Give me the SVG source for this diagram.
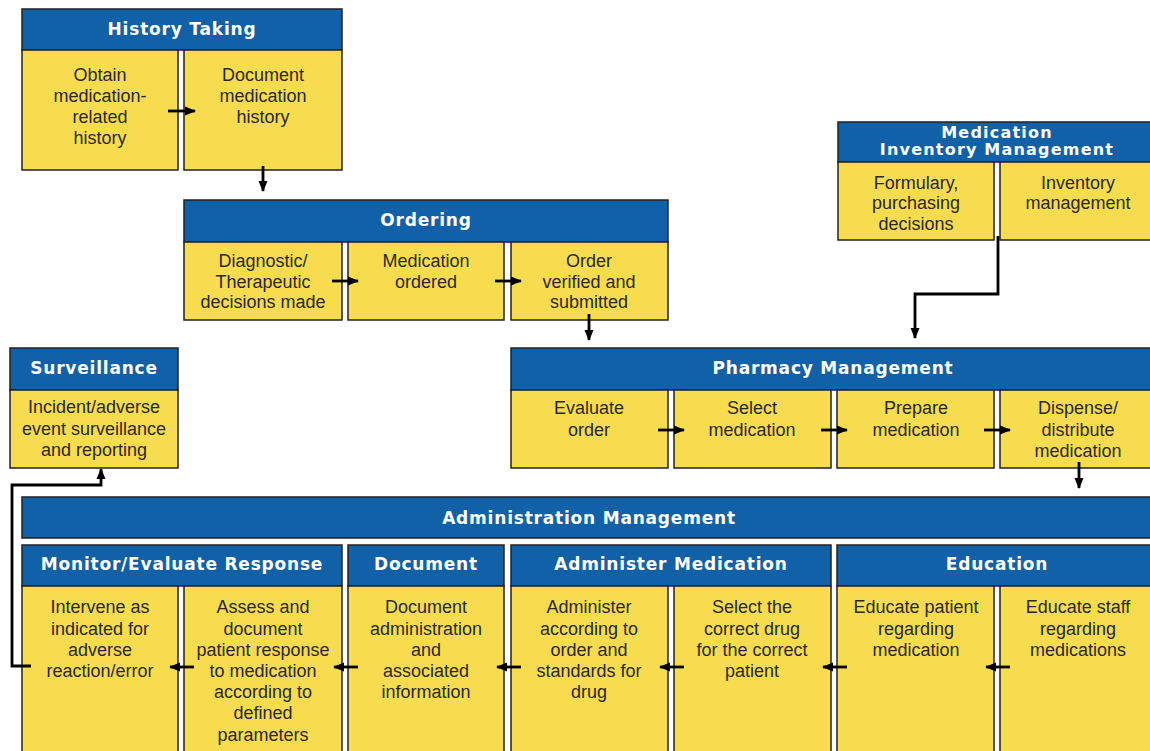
<svg xmlns="http://www.w3.org/2000/svg" width="1150" height="751" viewBox="0 0 1150 751">
<style>
.hd{fill:#1161a9;stroke:#222;stroke-width:1.5}
.cl{fill:#f8dc50;stroke:#222;stroke-width:1.5}
.ht{font-family:"DejaVu Sans",sans-serif;font-weight:bold;font-size:17px;letter-spacing:0.8px;fill:#fff;text-anchor:middle}
.bt{font-family:"Liberation Sans",Arial,sans-serif;font-size:18px;fill:#2a2a14;text-anchor:middle}
.cn{fill:none;stroke:#000;stroke-width:2.8}
</style>
<defs>
<marker id="ah" markerUnits="userSpaceOnUse" markerWidth="12" markerHeight="12" viewBox="0 0 12 12" refX="10" refY="6" orient="auto">
<path d="M0,1.5 L11,6 L0,10.5 Z" fill="#000"/>
</marker>
</defs>
<rect width="1150" height="751" fill="#fff"/>

<g id="history-taking">
<rect class="hd" x="22" y="9" width="320" height="41"/>
<text class="ht" x="182" y="35">History Taking</text>
<rect class="cl" x="22" y="50" width="156" height="120"/>
<rect class="cl" x="184" y="50" width="158" height="120"/>
<text class="bt"><tspan x="100" y="81">Obtain</tspan><tspan x="100" y="102">medication-</tspan><tspan x="100" y="123">related</tspan><tspan x="100" y="144">history</tspan></text>
<text class="bt"><tspan x="263" y="81">Document</tspan><tspan x="263" y="102">medication</tspan><tspan x="263" y="123">history</tspan></text>
</g>

<g id="ordering">
<rect class="hd" x="184" y="200" width="484" height="42"/>
<text class="ht" x="426" y="226">Ordering</text>
<rect class="cl" x="184" y="242" width="158" height="78"/>
<rect class="cl" x="348" y="242" width="156" height="78"/>
<rect class="cl" x="511" y="242" width="157" height="78"/>
<text class="bt"><tspan x="263" y="267">Diagnostic/</tspan><tspan x="263" y="288">Therapeutic</tspan><tspan x="263" y="308">decisions made</tspan></text>
<text class="bt"><tspan x="426" y="267">Medication</tspan><tspan x="426" y="288">ordered</tspan></text>
<text class="bt"><tspan x="589" y="267">Order</tspan><tspan x="589" y="288">verified and</tspan><tspan x="589" y="308">submitted</tspan></text>
</g>

<g id="medication-inventory-management">
<rect class="hd" x="838" y="122" width="318" height="40"/>
<text class="ht" style="font-size:16px;letter-spacing:1.2px"><tspan x="997" y="138">Medication</tspan><tspan x="997" y="155">Inventory Management</tspan></text>
<rect class="cl" x="838" y="162" width="156" height="78"/>
<rect class="cl" x="1000" y="162" width="156" height="78"/>
<text class="bt"><tspan x="916" y="189">Formulary,</tspan><tspan x="916" y="209">purchasing</tspan><tspan x="916" y="230">decisions</tspan></text>
<text class="bt"><tspan x="1078" y="189">Inventory</tspan><tspan x="1078" y="209">management</tspan></text>
</g>

<g id="surveillance">
<rect class="hd" x="10" y="348" width="168" height="42"/>
<text class="ht" x="94" y="374">Surveillance</text>
<rect class="cl" x="10" y="390" width="168" height="78"/>
<text class="bt"><tspan x="94" y="413">Incident/adverse</tspan><tspan x="94" y="435">event surveillance</tspan><tspan x="94" y="456">and reporting</tspan></text>
</g>

<g id="pharmacy-management">
<rect class="hd" x="511" y="348" width="645" height="42"/>
<text class="ht" x="833" y="374">Pharmacy Management</text>
<rect class="cl" x="511" y="390" width="157" height="78"/>
<rect class="cl" x="674" y="390" width="157" height="78"/>
<rect class="cl" x="837" y="390" width="157" height="78"/>
<rect class="cl" x="1000" y="390" width="156" height="78"/>
<text class="bt"><tspan x="589" y="414">Evaluate</tspan><tspan x="589" y="436">order</tspan></text>
<text class="bt"><tspan x="752" y="414">Select</tspan><tspan x="752" y="436">medication</tspan></text>
<text class="bt"><tspan x="916" y="414">Prepare</tspan><tspan x="916" y="436">medication</tspan></text>
<text class="bt"><tspan x="1078" y="414">Dispense/</tspan><tspan x="1078" y="436">distribute</tspan><tspan x="1078" y="457">medication</tspan></text>
</g>

<g id="administration-management">
<rect class="hd" x="22" y="497" width="1134" height="41"/>
<text class="ht" x="589" y="524">Administration Management</text>
</g>

<g id="monitor-evaluate-response">
<rect class="hd" x="22" y="545" width="320" height="41"/>
<text class="ht" x="182" y="570">Monitor/Evaluate Response</text>
<rect class="cl" x="22" y="586" width="156" height="170"/>
<rect class="cl" x="184" y="586" width="158" height="170"/>
<text class="bt"><tspan x="100" y="613">Intervene as</tspan><tspan x="100" y="635">indicated for</tspan><tspan x="100" y="656">adverse</tspan><tspan x="100" y="677">reaction/error</tspan></text>
<text class="bt"><tspan x="263" y="613">Assess and</tspan><tspan x="263" y="635">document</tspan><tspan x="263" y="656">patient response</tspan><tspan x="263" y="677">to medication</tspan><tspan x="263" y="698">according to</tspan><tspan x="263" y="719">defined</tspan><tspan x="263" y="741">parameters</tspan></text>
</g>

<g id="document">
<rect class="hd" x="348" y="545" width="156" height="41"/>
<text class="ht" x="426" y="570">Document</text>
<rect class="cl" x="348" y="586" width="156" height="170"/>
<text class="bt"><tspan x="426" y="613">Document</tspan><tspan x="426" y="635">administration</tspan><tspan x="426" y="656">and</tspan><tspan x="426" y="677">associated</tspan><tspan x="426" y="698">information</tspan></text>
</g>

<g id="administer-medication">
<rect class="hd" x="511" y="545" width="320" height="41"/>
<text class="ht" x="671" y="570">Administer Medication</text>
<rect class="cl" x="511" y="586" width="157" height="170"/>
<rect class="cl" x="674" y="586" width="157" height="170"/>
<text class="bt"><tspan x="589" y="613">Administer</tspan><tspan x="589" y="635">according to</tspan><tspan x="589" y="656">order and</tspan><tspan x="589" y="677">standards for</tspan><tspan x="589" y="698">drug</tspan></text>
<text class="bt"><tspan x="752" y="613">Select the</tspan><tspan x="752" y="635">correct drug</tspan><tspan x="752" y="656">for the correct</tspan><tspan x="752" y="677">patient</tspan></text>
</g>

<g id="education">
<rect class="hd" x="837" y="545" width="319" height="41"/>
<text class="ht" x="997" y="570">Education</text>
<rect class="cl" x="837" y="586" width="157" height="170"/>
<rect class="cl" x="1000" y="586" width="156" height="170"/>
<text class="bt"><tspan x="916" y="613">Educate patient</tspan><tspan x="916" y="635">regarding</tspan><tspan x="916" y="656">medication</tspan></text>
<text class="bt"><tspan x="1078" y="613">Educate staff</tspan><tspan x="1078" y="635">regarding</tspan><tspan x="1078" y="656">medications</tspan></text>
</g>

<g id="connectors">
<line class="cn" x1="168" y1="111" x2="195" y2="111" marker-end="url(#ah)"/>
<line class="cn" x1="263" y1="166" x2="263" y2="191" marker-end="url(#ah)"/>
<line class="cn" x1="332" y1="281" x2="358" y2="281" marker-end="url(#ah)"/>
<line class="cn" x1="495" y1="281" x2="521" y2="281" marker-end="url(#ah)"/>
<line class="cn" x1="589" y1="314" x2="589" y2="340" marker-end="url(#ah)"/>
<path class="cn" d="M998,236 V294 H915 V338" marker-end="url(#ah)"/>
<line class="cn" x1="658" y1="430" x2="684" y2="430" marker-end="url(#ah)"/>
<line class="cn" x1="821" y1="430" x2="847" y2="430" marker-end="url(#ah)"/>
<line class="cn" x1="984" y1="430" x2="1010" y2="430" marker-end="url(#ah)"/>
<line class="cn" x1="1079" y1="462" x2="1079" y2="488" marker-end="url(#ah)"/>
<line class="cn" x1="1010" y1="667" x2="986" y2="667" marker-end="url(#ah)"/>
<line class="cn" x1="847" y1="667" x2="823" y2="667" marker-end="url(#ah)"/>
<line class="cn" x1="684" y1="667" x2="660" y2="667" marker-end="url(#ah)"/>
<line class="cn" x1="521" y1="667" x2="497" y2="667" marker-end="url(#ah)"/>
<line class="cn" x1="358" y1="667" x2="334" y2="667" marker-end="url(#ah)"/>
<line class="cn" x1="194" y1="667" x2="170" y2="667" marker-end="url(#ah)"/>
<path class="cn" d="M31,666 H12 V485 H101 V469" marker-end="url(#ah)"/>
</g>
</svg>
